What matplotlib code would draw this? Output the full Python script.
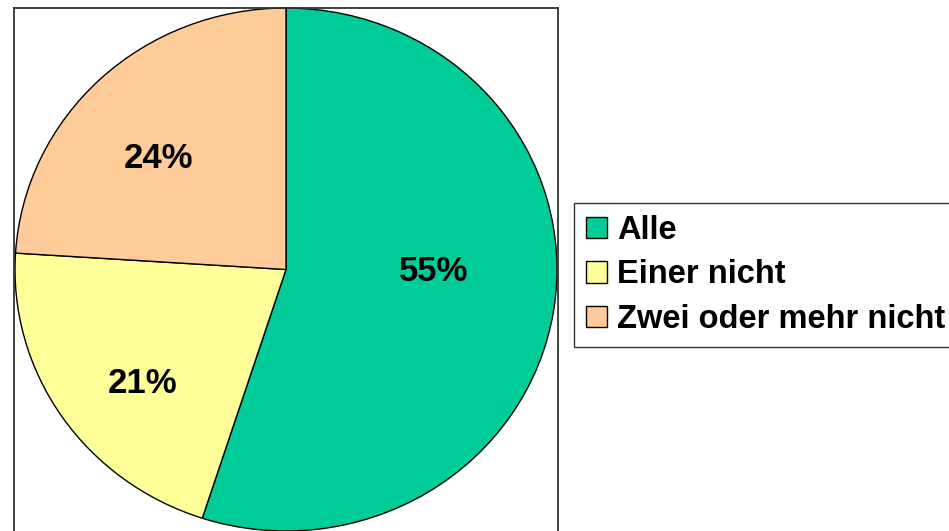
import matplotlib
matplotlib.use("Agg")
import matplotlib.pyplot as plt
from matplotlib.lines import Line2D
from matplotlib.patches import Patch

plt.rcParams['font.family'] = ['Liberation Sans', 'DejaVu Sans']

# Anteile
labels = ['Alle', 'Einer nicht', 'Zwei oder mehr nicht']
values = [55, 21, 24]
colors = ['#00CC99', '#FFFF99', '#FFCC99']
# where the percentage labels sit (pie radius units)
label_pos = [(0.546, -0.006), (-0.528, -0.437), (-0.469, 0.424)]

W, H = 949, 531
fig = plt.figure(figsize=(W / 100, H / 100), dpi=100)

# pie area (slightly wider than tall, like the original)
ax = fig.add_axes([15 / W, 0 / H, 542 / W, 523 / H])
wedges, texts, autotexts = ax.pie(values, colors=colors, startangle=90, counterclock=False,
                                  radius=1, autopct='%1.0f%%', pctdistance=0.6,
                                  wedgeprops=dict(edgecolor='black', linewidth=1.0),
                                  textprops=dict(fontsize=25, fontweight='bold', color='black'))
for t, p in zip(autotexts, label_pos):
    t.set_position(p)
ax.set_xlim(-1, 1)
ax.set_ylim(-1, 1)
ax.set_aspect('auto')
ax.axis('off')

# plot area frame (bottom edge lies outside the picture)
x0, x1, ytop = 14 / W, 558 / W, 1 - 8 / H
for xs, ys in [([x0, x0], [-0.1, ytop]), ([x0, x1], [ytop, ytop]), ([x1, x1], [ytop, -0.1])]:
    fig.add_artist(Line2D(xs, ys, transform=fig.transFigure, color='#333333', lw=1.3))

handles = [Patch(facecolor=c, edgecolor='black', linewidth=1.0) for c in colors]
leg = fig.legend(handles, labels, loc='upper left', bbox_to_anchor=(574 / W, 1 - 203 / H),
                 bbox_transform=fig.transFigure, frameon=True, fancybox=False, shadow=False,
                 prop=dict(size=23.5, weight='bold'), handlelength=0.64, handleheight=0.64,
                 handletextpad=0.31, borderpad=0.37, labelspacing=0.41, borderaxespad=0)
leg.get_frame().set_edgecolor('black')
leg.get_frame().set_linewidth(1.0)

fig.savefig('out.png', dpi=100)
